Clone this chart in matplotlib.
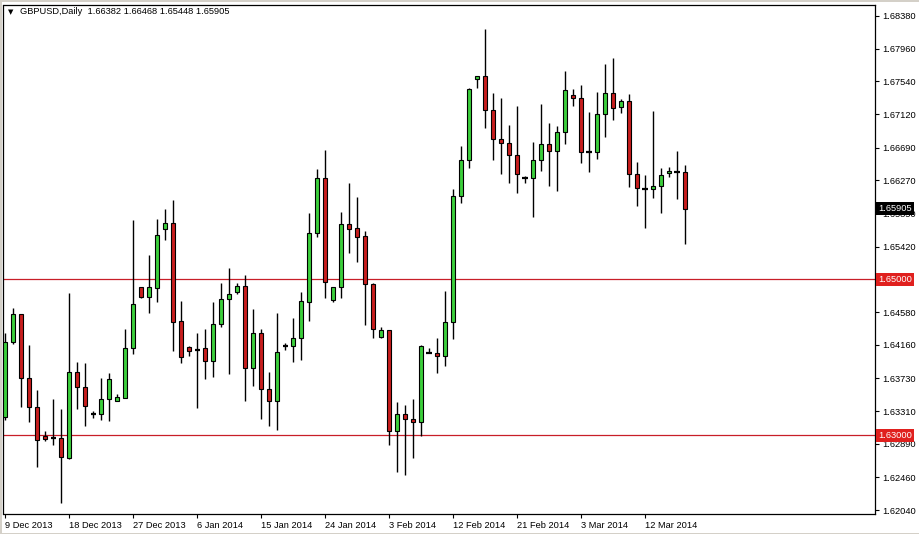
import numpy as np
import matplotlib.pyplot as plt

# GBPUSD daily candles, 9 Dec 2013 .. 18 Mar 2014 (MT4 chart, incl. Sunday bars)
opens = [1.63235, 1.64197, 1.64556, 1.63735, 1.63363, 1.62991, 1.62965, 1.62965, 1.62709, 1.63812,
         1.63620, 1.63273, 1.63273, 1.63466, 1.63440, 1.63479, 1.64120, 1.64903, 1.64775, 1.64890,
         1.65647, 1.65724, 1.64467, 1.64133, 1.64095, 1.64120, 1.63953, 1.64428, 1.64749, 1.64839,
         1.64916, 1.63864, 1.64313, 1.63594, 1.63440, 1.64146, 1.64146, 1.64249, 1.64710, 1.65596,
         1.66301, 1.64736, 1.64903, 1.65711, 1.65660, 1.65557, 1.64941, 1.64261, 1.64351, 1.63055,
         1.63273, 1.63209, 1.63171, 1.64060, 1.64056, 1.64018, 1.64454, 1.66070, 1.66532, 1.67571,
         1.67610, 1.67174, 1.66802, 1.66750, 1.66596, 1.66301, 1.66301, 1.66532, 1.66738, 1.66648,
         1.66891, 1.67366, 1.67328, 1.66635, 1.66635, 1.67122, 1.67392, 1.67212, 1.67289, 1.66353,
         1.66160, 1.66160, 1.66199, 1.66365, 1.66378, 1.66382]
highs = [1.64313, 1.64633, 1.64556, 1.64159, 1.63581, 1.63055, 1.63466, 1.63338, 1.64826, 1.63941,
         1.63928, 1.63312, 1.63735, 1.63799, 1.63530, 1.64364, 1.65762, 1.64903, 1.65313, 1.65775,
         1.65904, 1.66019, 1.64723, 1.64146, 1.64313, 1.64364, 1.64710, 1.64954, 1.65147, 1.64954,
         1.65057, 1.64621, 1.64364, 1.63812, 1.64569, 1.64184, 1.64505, 1.64839, 1.65852, 1.66417,
         1.66661, 1.64903, 1.65865, 1.66237, 1.66058, 1.65621, 1.64954, 1.64390, 1.64351, 1.63427,
         1.63389, 1.63466, 1.64159, 1.64120, 1.64249, 1.64852, 1.66160, 1.66712, 1.67456, 1.67610,
         1.68213, 1.67392, 1.67328, 1.66981, 1.67225, 1.66327, 1.66763, 1.67251, 1.67007, 1.66968,
         1.67674, 1.67443, 1.67494, 1.67148, 1.67405, 1.67764, 1.67841, 1.67315, 1.67379, 1.66507,
         1.66340, 1.67161, 1.66430, 1.66442, 1.66648, 1.66468]
lows = [1.63196, 1.64171, 1.63363, 1.63171, 1.62593, 1.62927, 1.62876, 1.62132, 1.62696, 1.63338,
        1.63119, 1.63222, 1.63196, 1.63184, 1.63440, 1.63479, 1.64043, 1.64762, 1.64569, 1.64710,
        1.65506, 1.64082, 1.63928, 1.64018, 1.63350, 1.63722, 1.63748, 1.64390, 1.63787, 1.64813,
        1.63440, 1.63633, 1.63209, 1.63119, 1.63068, 1.64095, 1.63941, 1.63966, 1.64467, 1.65544,
        1.64762, 1.64710, 1.64762, 1.65339, 1.65224, 1.64415, 1.64249, 1.64249, 1.62876, 1.62529,
        1.62491, 1.62709, 1.62991, 1.64056, 1.63799, 1.63889, 1.64236, 1.65981, 1.66430, 1.67456,
        1.66943, 1.66532, 1.66353, 1.66237, 1.66109, 1.66237, 1.65801, 1.66391, 1.66199, 1.66135,
        1.66738, 1.67225, 1.66494, 1.66378, 1.66545, 1.66827, 1.67045, 1.67135, 1.66186, 1.65942,
        1.65660, 1.66045, 1.65852, 1.66314, 1.66032, 1.65448]
closes = [1.64197, 1.64556, 1.63735, 1.63363, 1.62940, 1.62953, 1.62965, 1.62722, 1.63812, 1.63620,
          1.63376, 1.63273, 1.63466, 1.63722, 1.63492, 1.64120, 1.64685, 1.64775, 1.64903, 1.65570,
          1.65724, 1.64454, 1.64005, 1.64082, 1.64095, 1.63953, 1.64428, 1.64749, 1.64813, 1.64916,
          1.63864, 1.64313, 1.63594, 1.63440, 1.64069, 1.64146, 1.64249, 1.64723, 1.65596, 1.66301,
          1.64967, 1.64903, 1.65711, 1.65647, 1.65544, 1.64941, 1.64364, 1.64351, 1.63055, 1.63273,
          1.63209, 1.63171, 1.64146, 1.64060, 1.64018, 1.64454, 1.66070, 1.66532, 1.67443, 1.67610,
          1.67174, 1.66802, 1.66750, 1.66596, 1.66353, 1.66301, 1.66532, 1.66738, 1.66648, 1.66891,
          1.67430, 1.67328, 1.66635, 1.66635, 1.67122, 1.67392, 1.67199, 1.67289, 1.66353, 1.66173,
          1.66160, 1.66199, 1.66340, 1.66391, 1.66378, 1.65905]

date_labels = ['9 Dec 2013', '18 Dec 2013', '27 Dec 2013', '6 Jan 2014', '15 Jan 2014',
               '24 Jan 2014', '3 Feb 2014', '12 Feb 2014', '21 Feb 2014', '3 Mar 2014',
               '12 Mar 2014']
price_ticks = [1.68380, 1.67960, 1.67540, 1.67120, 1.66690, 1.66270, 1.65850, 1.65420,
               1.64580, 1.64160, 1.63730, 1.63310, 1.62890, 1.62460, 1.62040]
levels = [1.65000, 1.63000]

plt.rcParams['font.family'] = ['Liberation Sans', 'DejaVu Sans']

o = np.array(opens)
h = np.array(highs)
l = np.array(lows)
c = np.array(closes)
x = np.arange(len(o))
up = c > o
down = c < o
flat = c == o

fig = plt.figure(figsize=(9.2, 5.34), dpi=100)
fig.patch.set_edgecolor('#d4d0c8')
fig.patch.set_linewidth(2)
ax = fig.add_axes([3.5 / 920, 20 / 534, 871.5 / 920, 509 / 534])

for lv in levels:
    ax.axhline(lv, color='#c81e28', lw=0.9, zorder=1)

ax.vlines(x, l, h, color='black', lw=1.0, zorder=2)
ax.bar(x[up], (c - o)[up], bottom=o[up], width=0.6, color='#3ccf3c',
       edgecolor='black', linewidth=0.8, zorder=3)
ax.bar(x[down], (o - c)[down], bottom=c[down], width=0.6, color='#c81e1e',
       edgecolor='black', linewidth=0.8, zorder=3)
ax.hlines(o[flat], x[flat] - 0.32, x[flat] + 0.32, color='black', lw=1.6, zorder=3)

ax.set_xlim(-0.2, 108.75)
ax.set_ylim(1.61990, 1.68521)

ax.yaxis.tick_right()
ax.set_yticks(price_ticks)
ax.set_yticklabels([f'{v:.5f}' for v in price_ticks])
ax.set_xticks(np.arange(0, 8 * len(date_labels), 8))
ax.set_xticklabels(date_labels, ha='left')
ax.tick_params(axis='y', direction='out', length=3, width=0.8, pad=2, labelsize=6.7)
ax.tick_params(axis='x', direction='out', length=3, width=0.8, pad=2, labelsize=6.7)
for s in ax.spines.values():
    s.set_linewidth(0.9)
    s.set_color('black')

# price labels on the right axis
for val, fc in [(levels[0], '#e0201e'), (levels[1], '#e0201e'), (closes[-1], 'black')]:
    ax.text(1.004, val, f'{val:.5f}', transform=ax.get_yaxis_transform(), color='white',
            fontsize=6.7, va='center', ha='left', clip_on=False, zorder=5,
            bbox=dict(boxstyle='square,pad=0.22', fc=fc, ec='none'))

fig.text(8 / 920, 1 - 12 / 534, '\u25bc', fontsize=5, va='center', family='DejaVu Sans')
fig.text(20 / 920, 1 - 12 / 534,
         f'GBPUSD,Daily  {opens[-1]:.5f} {highs[-1]:.5f} {lows[-1]:.5f} {closes[-1]:.5f}',
         fontsize=6.7, va='center')

fig.savefig('out.png', dpi=100)
